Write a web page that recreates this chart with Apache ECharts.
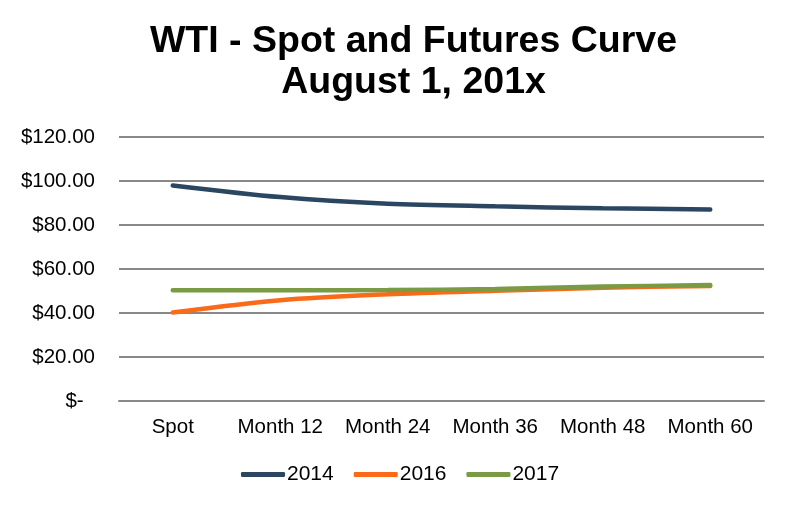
<!DOCTYPE html>
<html>
<head>
<meta charset="utf-8">
<script src="https://cdn.jsdelivr.net/npm/echarts@6/dist/echarts.min.js"></script>
<style>
html,body{margin:0;padding:0;background:#fff;}
#chart{width:791px;height:508px;}
</style>
</head>
<body>
<div id="chart"></div>
<script>
var categories = ['Spot', 'Month 12', 'Month 24', 'Month 36', 'Month 48', 'Month 60'];
var seriesNames = ['2014', '2016', '2017'];
var values2014 = [98.0, 92.7, 89.7, 88.5, 87.6, 87.1];
var values2016 = [40.2, 45.8, 48.5, 50.1, 51.5, 52.3];
var values2017 = [50.3, 50.3, 50.4, 50.9, 52.0, 52.7];
var yTicks = {min: 0, max: 120, interval: 20};
var colors = ['#2b4661', '#fa6a19', '#7a9a46'];

var font = '"Liberation Sans", Arial, sans-serif';
var chart = echarts.init(document.getElementById('chart'), null, {renderer: 'canvas'});
var data = [values2014, values2016, values2017];
chart.setOption({
  animation: false,
  backgroundColor: '#ffffff',
  title: {
    text: 'WTI - Spot and Futures Curve\nAugust 1, 201x',
    left: 408.5,
    top: 16,
    textAlign: 'center',
    textStyle: {fontFamily: font, fontSize: 37.5, fontWeight: 'bold', color: '#000', lineHeight: 41}
  },
  legend: {
    data: seriesNames,
    top: 459,
    left: 236,
    icon: 'roundRect',
    itemWidth: 44,
    itemHeight: 5,
    itemGap: 20,
    textStyle: {fontFamily: font, fontSize: 21, color: '#000', padding: [0, 0, 0, -3]}
  },
  grid: {left: 119, right: 27, top: 137, bottom: 107, containLabel: false},
  xAxis: {
    type: 'category',
    data: categories,
    boundaryGap: true,
    axisLine: {show: true, lineStyle: {color: '#888888', width: 2}},
    axisTick: {show: false},
    axisLabel: {fontFamily: font, fontSize: 20.5, color: '#000', margin: 16, interval: 0}
  },
  yAxis: {
    type: 'value',
    min: yTicks.min,
    max: yTicks.max,
    interval: yTicks.interval,
    axisLine: {show: false},
    axisTick: {show: false},
    splitLine: {show: true, lineStyle: {color: '#888888', width: 2}},
    axisLabel: {
      fontFamily: font, fontSize: 20.5, color: '#000', margin: 24,
      formatter: function (v) { return v === 0 ? '$-  ' : '$' + v.toFixed(2); }
    }
  },
  series: seriesNames.map(function (n, i) {
    return {
      name: n,
      type: 'line',
      data: data[i],
      smooth: 0.3,
      symbol: 'none',
      color: colors[i],
      lineStyle: {width: 4.5, color: colors[i], cap: 'round'},
      z: 2 + i
    };
  })
});
</script>
</body>
</html>
